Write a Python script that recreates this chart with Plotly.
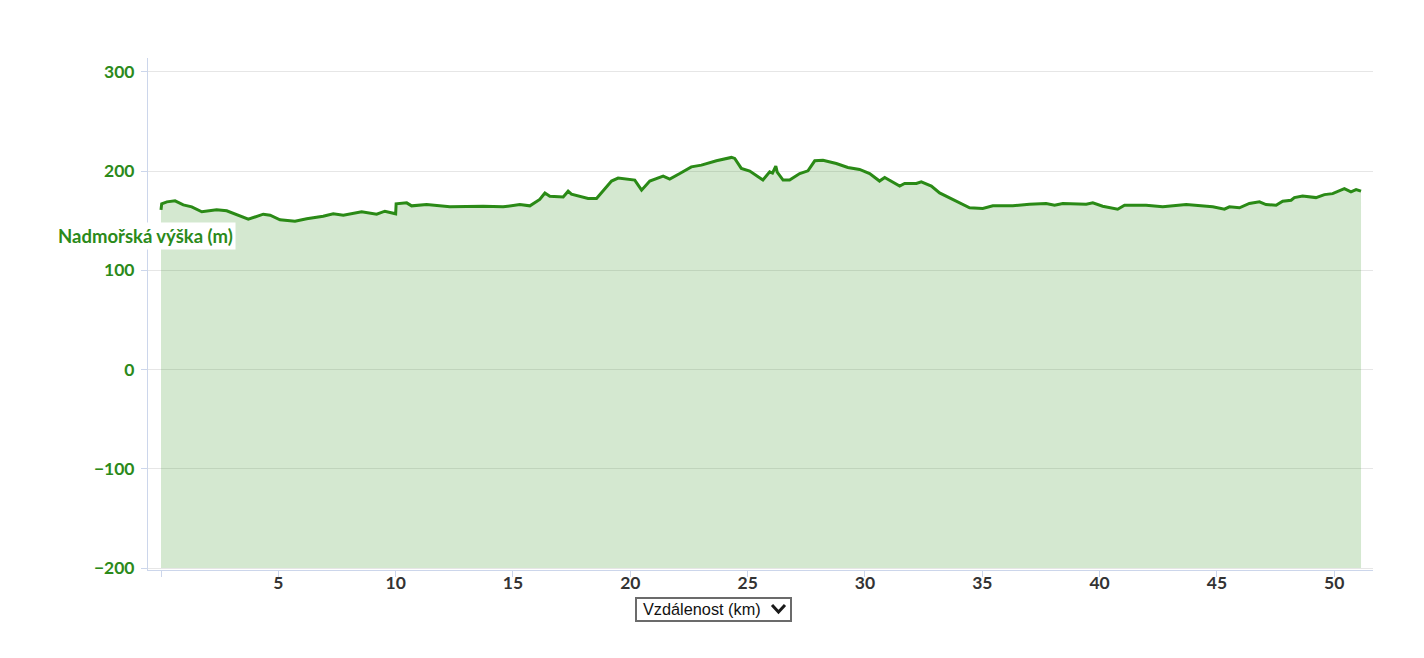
import plotly.graph_objects as go

# Elevation profile data (distance in km, elevation in m)
dist_km = [0, 0.03, 0.25, 0.6, 0.95, 1.31, 1.74, 2.37, 2.8, 3.23,
           3.72, 4.36, 4.65, 5.07, 5.71, 6.21, 6.91, 7.34, 7.77, 8.55,
           9.19, 9.54, 9.9, 10.0, 10.02, 10.47, 10.68, 11.32, 12.31, 13.73,
           14.58, 15.29, 15.72, 16.0, 16.14, 16.36, 16.57, 17.14, 17.35, 17.49,
           18.2, 18.56, 18.77, 19.2, 19.48, 19.84, 20.19, 20.48, 20.83, 21.4,
           21.68, 22.11, 22.6, 23.03, 23.67, 24.31, 24.45, 24.73, 25.09, 25.65,
           25.94, 26.06, 26.16, 26.2, 26.26, 26.51, 26.79, 27.22, 27.57, 27.86,
           28.21, 28.78, 29.27, 29.63, 29.77, 30.2, 30.62, 30.84, 31.19, 31.48,
           31.69, 32.19, 32.4, 32.83, 33.18, 33.61, 33.89, 34.46, 35.02, 35.45,
           36.3, 37.01, 37.72, 38.08, 38.43, 39.43, 39.71, 40.13, 40.77, 41.06,
           41.98, 42.69, 43.69, 44.82, 45.32, 45.53, 45.96, 46.38, 46.81, 47.09,
           47.52, 47.8, 48.16, 48.3, 48.65, 49.22, 49.58, 49.93, 50.43, 50.71,
           50.93, 51.14]

elevation_m = [161, 167, 169, 170, 166, 164, 159, 161, 160, 156,
               151.5, 156.6, 155.6, 151, 149.5, 152, 154.5, 157, 155.6, 159,
               156.6, 159.6, 158, 157, 167, 168, 165, 166.3, 164, 164.6,
               164, 166.3, 165, 169.7, 171.4, 178, 174.7, 174, 179.8, 176.8,
               172.4, 172.4, 178, 190, 193, 191.6, 191, 180.8, 190, 195,
               192, 197.6, 204.3, 206, 210.4, 213.8, 212.8, 202.7, 200, 191,
               199.3, 198, 203, 205, 199, 191, 191, 197.6, 200.3, 210.4,
               211, 207.7, 203.7, 202.7, 201.7, 197.6, 190, 193.6, 188.5, 185,
               187.5, 187.5, 189.2, 185, 178, 173, 169, 163, 162.3, 165,
               165, 166.7, 167.4, 165.6, 167.4, 166.7, 168, 164.6, 161.6, 165.6,
               165.6, 164, 166.3, 164, 161.6, 164, 163, 167.4, 169, 166.3,
               165.6, 169.7, 170.7, 173.3, 175, 173.3, 176.3, 177.3, 182.3, 179,
               181.4, 179.8]

floor_m = -200
x_tickvals = [0, 5, 10, 15, 20, 25, 30, 35, 40, 45, 50]
x_ticktext = ["", "5", "10", "15", "20", "25", "30", "35", "40", "45", "50"]
y_tickvals = [-200, -100, 0, 100, 200, 300]
y_ticktext = ["\u2212200", "\u2212100", "0", "100", "200", "300"]

y_title = "Nadmořská výška (m)"
x_title = "Vzdálenost (km)"

LINE = "#2a8a16"
LABEL = "#2b8a1a"
AXIS = "#ccd6eb"

fig = go.Figure()
fig.add_trace(go.Scatter(
    x=[dist_km[0], dist_km[-1]], y=[floor_m, floor_m],
    mode="lines", line=dict(width=0), showlegend=False, hoverinfo="skip"))
fig.add_trace(go.Scatter(
    x=dist_km, y=elevation_m, mode="lines",
    line=dict(color=LINE, width=3),
    fill="tonexty", fillcolor="rgba(42,138,22,0.2)",
    showlegend=False, name=y_title))

# plot area in page pixels (page has an 8px body margin)
L, R, T, B = 148, 1373, 58, 570
W, H = R - L, B - T
OFF = 8
FIG_W, FIG_H = 1424 - 2 * OFF, 658 - 2 * OFF

def px(xp):
    return (xp - L) / W

def py(yp):
    return (B - yp) / H

fig.update_layout(
    width=FIG_W, height=FIG_H,
    margin=dict(l=L - OFF, r=FIG_W - (R - OFF), t=T - OFF, b=FIG_H - (B - OFF)),
    paper_bgcolor="white", plot_bgcolor="white",
    font=dict(family="Lato", size=16),
    xaxis=dict(range=[-0.554, 51.65], tickvals=x_tickvals, ticktext=x_ticktext,
               showgrid=False, zeroline=False, showline=True, linecolor=AXIS,
               linewidth=1, ticks="outside", ticklen=6, tickcolor=AXIS,
               ticklabelstandoff=-9,
               tickfont=dict(family="Lato", size=17.5, color="#333333", weight="bold")),
    yaxis=dict(range=[-202, 314], tickvals=y_tickvals, ticktext=y_ticktext,
               showgrid=True, gridcolor="#e6e6e6", gridwidth=1, zeroline=False,
               showline=True, linecolor=AXIS, linewidth=1,
               ticks="outside", ticklen=6, tickcolor=AXIS,
               ticklabelstandoff=3,
               tickfont=dict(family="Lato", size=17.5, color=LABEL, weight="bold")),
    annotations=[
        dict(text=y_title, xref="paper", yref="paper", x=px(55), y=py(236),
             xanchor="left", yanchor="middle", showarrow=False,
             bgcolor="white", borderpad=2,
             font=dict(family="Lato", size=18.5, color=LABEL, weight="bold")),
        dict(text=x_title, xref="paper", yref="paper", x=px(641), y=py(609),
             xanchor="left", yanchor="middle", showarrow=False,
             font=dict(family="Liberation Sans", size=16.3, color="#111111")),
    ],
    shapes=[
        dict(type="rect", xref="paper", yref="paper",
             x0=px(636), x1=px(791), y0=py(598), y1=py(621),
             line=dict(color="#6b6b6b", width=2)),
        dict(type="path", xref="paper", yref="paper",
             path=f"M {px(772)} {py(605)} L {px(778.5)} {py(612)} L {px(785)} {py(605)}",
             line=dict(color="#1a1a1a", width=3)),
    ],
)

fig.write_html("out.html")
